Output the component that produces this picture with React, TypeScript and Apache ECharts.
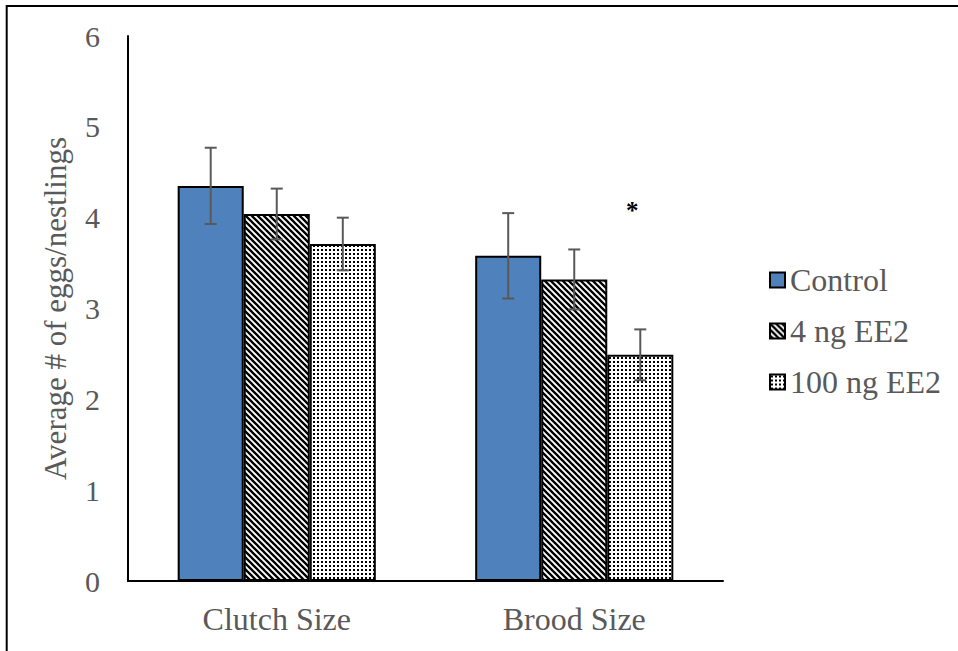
import React, { useEffect, useRef } from 'react';
import * as echarts from 'echarts';

const categories = ['Clutch Size', 'Brood Size'];
const seriesNames = ['Control', '4 ng EE2', '100 ng EE2'];
const controlValues = [4.35, 3.58];
const ng4Values = [4.04, 3.32];
const ng100Values = [3.71, 2.49];
const controlErr = [0.42, 0.47];
const ng4Err = [0.28, 0.33];
const ng100Err = [0.29, 0.28];
// significance marks: [seriesIndex, categoryIndex, value position, text]
const significanceMarks: [number, number, number, string][] = [[2, 1, 4.1, '*']];
const yTicks = [0, 1, 2, 3, 4, 5, 6];

const BAR_CAT_GAP = 0.334;

const stripeSvg =
  '<svg xmlns="http://www.w3.org/2000/svg" width="6" height="6">' +
  '<rect width="6" height="6" fill="white"/>' +
  '<path d="M-1,-1 L7,7 M-1,5 L1,7 M5,-1 L7,1" stroke="black" stroke-width="2.3"/>' +
  '</svg>';
const dotSvg =
  '<svg xmlns="http://www.w3.org/2000/svg" width="4" height="4">' +
  '<rect width="4" height="4" fill="white"/>' +
  '<rect x="1" y="1" width="2" height="2" fill="black"/>' +
  '</svg>';
const toUrl = (s: string) => 'data:image/svg+xml;charset=utf-8,' + encodeURIComponent(s);

const fills: any[] = [
  '#4F81BD',
  { image: toUrl(stripeSvg), repeat: 'repeat', imageWidth: 6, imageHeight: 6 },
  { image: toUrl(dotSvg), repeat: 'repeat', imageWidth: 4, imageHeight: 4 },
];

const FONT = '"Liberation Serif", "Times New Roman", serif';
const GRAY = '#595959';

export default function App() {
  const ref = useRef<HTMLDivElement>(null);
  useEffect(() => {
    document.body.style.margin = '0';
    if (!ref.current) return;
    const chart = echarts.init(ref.current, null, { renderer: 'svg' });
    const valueSets = [controlValues, ng4Values, ng100Values];
    const errSets = [controlErr, ng4Err, ng100Err];
    const errData: any[] = [];
    valueSets.forEach((vals, s) => {
      vals.forEach((v, c) => {
        const sig = significanceMarks.find((m) => m[0] === s && m[1] === c);
        errData.push([c, s, v - errSets[s][c], v + errSets[s][c], sig ? sig[2] : -1, sig ? sig[3] : '']);
      });
    });
    const barSeries = seriesNames.map((name, i) => ({
      name,
      type: 'bar',
      data: valueSets[i],
      barGap: '0%',
      barCategoryGap: BAR_CAT_GAP * 100 + '%',
      itemStyle: { color: fills[i], borderColor: '#000', borderWidth: 2 },
      emphasis: { disabled: true },
      z: 2,
    }));
    chart.setOption({
      animation: false,
      textStyle: { fontFamily: FONT },
      graphic: [
        {
          type: 'rect',
          shape: { x: 6.7, y: 6, width: 1100, height: 800 },
          style: { fill: 'none', stroke: '#000', lineWidth: 2 },
          silent: true,
        },
      ],
      grid: { left: 128, right: 235, top: 36, bottom: 70, containLabel: false },
      legend: {
        data: seriesNames,
        orient: 'vertical',
        left: 764,
        top: 259,
        itemWidth: 15,
        itemHeight: 15,
        itemGap: 19,
        icon: 'rect',
        textStyle: { fontSize: 32, color: GRAY, fontFamily: FONT, padding: [0, 0, 0, 0] },
      },
      xAxis: {
        type: 'category',
        data: categories,
        axisLine: { lineStyle: { color: '#000', width: 2 } },
        axisTick: { show: false },
        axisLabel: { fontSize: 32, color: GRAY, fontFamily: FONT, margin: 22 },
      },
      yAxis: {
        type: 'value',
        min: yTicks[0],
        max: yTicks[yTicks.length - 1],
        interval: 1,
        name: 'Average # of eggs/nestlings',
        nameLocation: 'middle',
        nameGap: 57,
        nameTextStyle: { fontSize: 31, color: GRAY, fontFamily: FONT },
        axisLine: { show: true, lineStyle: { color: '#000', width: 2 } },
        axisTick: { show: false },
        splitLine: { show: false },
        axisLabel: { fontSize: 30, color: GRAY, fontFamily: FONT, margin: 28 },
      },
      series: [
        ...barSeries,
        {
          type: 'custom',
          name: 'errors',
          data: errData,
          z: 5,
          silent: true,
          renderItem: (params: any, api: any) => {
            const c = api.value(0);
            const s = api.value(1);
            const lo = api.value(2);
            const hi = api.value(3);
            const sigV = api.value(4);
            const sigT = errData[params.dataIndex][5];
            const band = api.size([1, 0])[0];
            const barW = (band * (1 - BAR_CAT_GAP)) / 3;
            const cx = api.coord([c, 0])[0] + (s - 1) * barW;
            const yLo = api.coord([c, lo])[1];
            const yHi = api.coord([c, hi])[1];
            const cap = 6;
            const ls = { stroke: '#595959', lineWidth: 2 };
            const children: any[] = [
              { type: 'line', shape: { x1: cx, y1: yLo, x2: cx, y2: yHi }, style: ls },
              { type: 'line', shape: { x1: cx - cap, y1: yHi, x2: cx + cap, y2: yHi }, style: ls },
              { type: 'line', shape: { x1: cx - cap, y1: yLo, x2: cx + cap, y2: yLo }, style: ls },
            ];
            if (sigT) {
              const ys = api.coord([c, sigV])[1];
              children.push({
                type: 'text',
                x: cx - 8,
                y: ys + 2,
                style: {
                  text: sigT,
                  fill: '#000',
                  font: 'bold 25px ' + FONT,
                  align: 'center',
                  verticalAlign: 'middle',
                },
              });
            }
            return { type: 'group', children };
          },
        },
      ],
    });
    return () => chart.dispose();
  }, []);
  return <div ref={ref} style={{ width: 958, height: 651 }} />;
}
